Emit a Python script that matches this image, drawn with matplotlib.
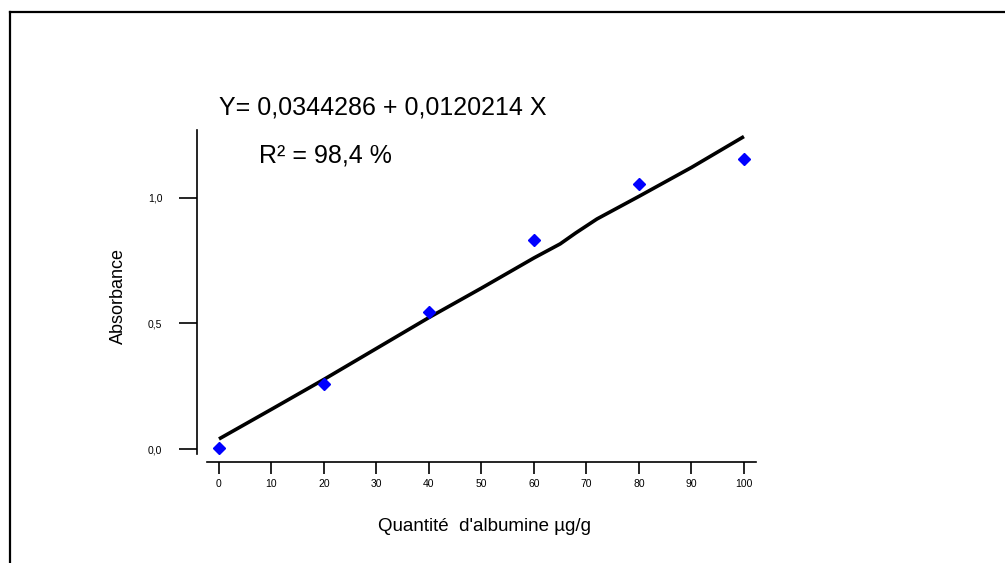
import numpy as np
import matplotlib
matplotlib.use('Agg')
import matplotlib.pyplot as plt
from matplotlib.lines import Line2D
from matplotlib.ticker import FuncFormatter

plt.rcParams['font.family'] = ['Liberation Sans', 'DejaVu Sans']

# measured points (albumine µg/g vs absorbance)
quantite = [0, 20, 40, 60, 80, 100]
absorbance = [0.004, 0.259, 0.545, 0.832, 1.055, 1.154]

# fitted line as drawn in the picture
fit_x = [0, 10, 20, 30, 40, 50, 60, 65, 68, 72, 80, 90, 100]
fit_y = [0.04, 0.158, 0.277, 0.40, 0.523, 0.64, 0.76, 0.816, 0.86, 0.915, 1.005, 1.12, 1.243]

x_ticks = [0, 10, 20, 30, 40, 50, 60, 70, 80, 90, 100]
y_ticks = [0.0, 0.5, 1.0]

equation = "Y= 0,0344286 + 0,0120214 X"
r2_text = "R² = 98,4 %"

fig = plt.figure(figsize=(10.05, 5.63), dpi=100)
ax = fig.add_axes([0.196, 0.1799, 0.7522 - 0.196, 0.7691 - 0.1799])

ax.plot(fit_x, fit_y, color='black', lw=2.6, solid_capstyle='butt', zorder=2)
ax.plot(quantite, absorbance, linestyle='none', marker='D', ms=6,
        color='#0000ff', markeredgecolor='#0000ff', zorder=3)

ax.set_xlim(-4.19, 102.29)
ax.set_ylim(-0.0505, 1.269)

ax.spines['top'].set_visible(False)
ax.spines['right'].set_visible(False)
ax.spines['left'].set_bounds(-0.02, 1.269)
ax.spines['bottom'].set_bounds(-2.29, 102.29)
for s in ['left', 'bottom']:
    ax.spines[s].set_linewidth(1.2)

ax.set_xticks(x_ticks)
ax.set_yticks(y_ticks)
ax.yaxis.set_major_formatter(FuncFormatter(lambda v, p: ('%.1f' % v).replace('.', ',')))
ax.tick_params(axis='y', length=13, width=1.2, pad=12, labelsize=7.5)
ax.tick_params(axis='x', length=8.5, width=1.2, pad=4, labelsize=7.5)

ax.set_xlabel("Quantité  d'albumine µg/g", fontsize=13.5)
ax.xaxis.set_label_coords(0.515, -0.17)
ax.set_ylabel("Absorbance", fontsize=13, labelpad=15)

fig.text(219 / 1005, 1 - 107.5 / 563, equation, fontsize=18, va='center', ha='left')
fig.text(259 / 1005, 1 - 156 / 563, r2_text, fontsize=18, va='center', ha='left')

# frame lines (top and left)
fig.add_artist(Line2D([10 / 1005, 1.0], [1 - 12 / 563, 1 - 12 / 563], color='black', lw=1.6))
fig.add_artist(Line2D([10 / 1005, 10 / 1005], [0.0, 1 - 12 / 563], color='black', lw=1.6))

fig.savefig('out.png', dpi=100)
